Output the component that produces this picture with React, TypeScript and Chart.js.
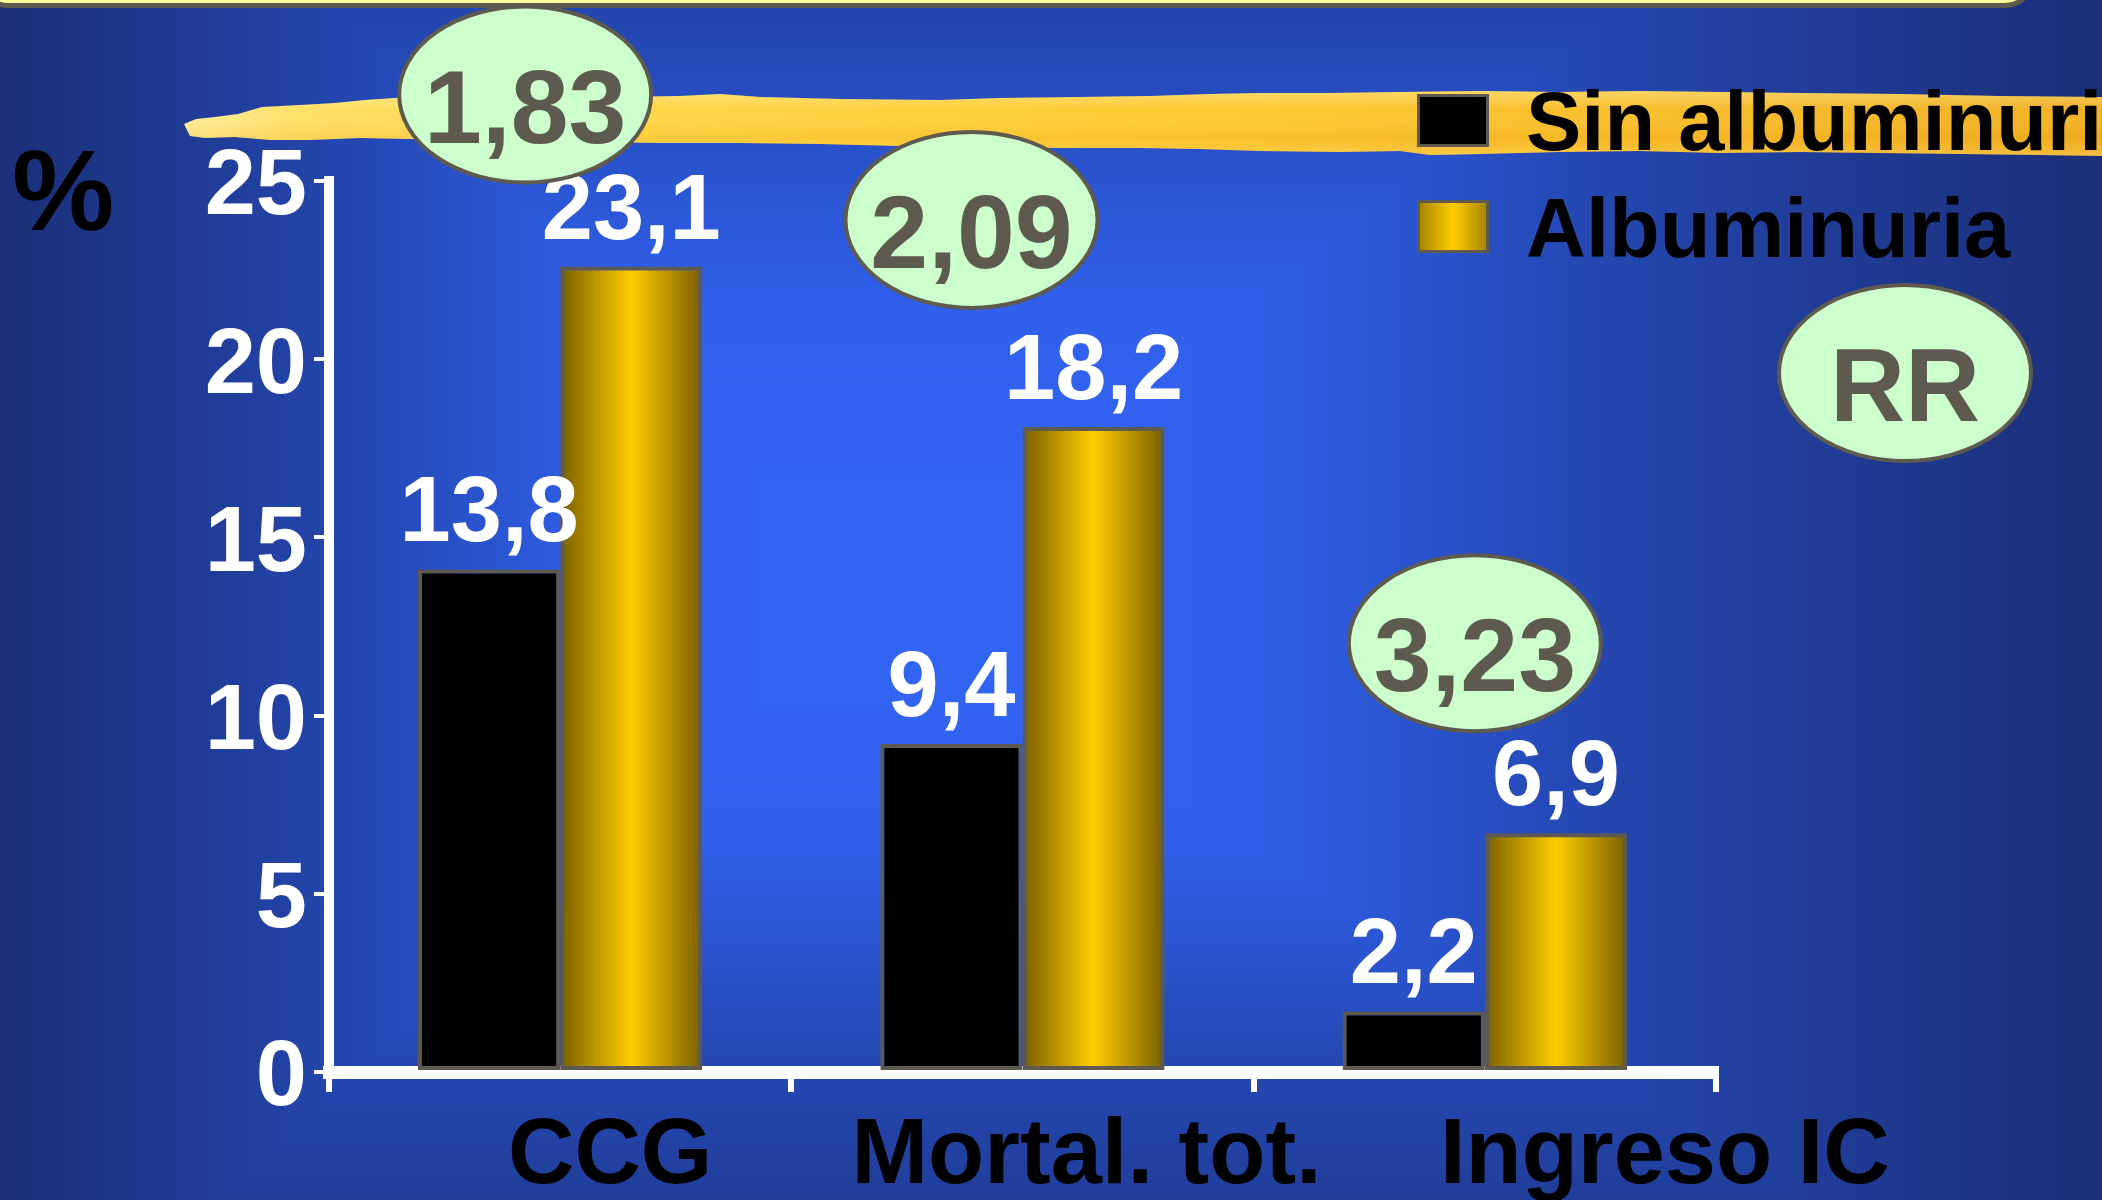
import React, { useEffect, useRef } from 'react';
import { Chart, registerables } from 'chart.js';

Chart.register(...registerables);

const FONT = '"Liberation Sans", Arial, Helvetica, sans-serif';

// ---- data ----
const categories = ['CCG', 'Mortal. tot.', 'Ingreso IC'];
const seriesNames = ['Sin albuminuria', 'Albuminuria'];
// bar heights as drawn in the picture (%)
const sinAlbuminuria = [14.1, 9.2, 1.7];
const albuminuria = [22.6, 18.1, 6.7];
// value labels printed above the bars
const sinAlbuminuriaLabels = ['13,8', '9,4', '2,2'];
const albuminuriaLabels = ['23,1', '18,2', '6,9'];
// relative risks printed in the bubbles
const riskRatios = ['1,83', '2,09', '3,23'];
const rrTitle = 'RR';
const yAxisTitle = '%';
const yTickValues = [0, 5, 10, 15, 20, 25];

// ---- styling helpers ----
const BORDER = '#5F5A50';
const BUBBLE = '#CCFFCC';

function goldGradient(ctx: CanvasRenderingContext2D, x0: number, x1: number, edge = '#7A6000') {
  const g = ctx.createLinearGradient(x0, 0, x1, 0);
  g.addColorStop(0, edge);
  g.addColorStop(0.5, '#FFCC00');
  g.addColorStop(1, edge);
  return g;
}

function drawBackground(ctx: CanvasRenderingContext2D, W: number, H: number) {
  const cx = 870, cy = 600, L = 870, R = 1232, T = 970, B = 800;
  const stops: [number, string][] = [
    [0, '#3366F5'],
    [0.3, '#3060EC'],
    [0.6, '#2446AE'],
    [1, '#1B2F78'],
  ];
  ctx.fillStyle = '#2547B0';
  ctx.fillRect(0, 0, W, H);
  const x0 = cx - L, x1 = cx + R, y0 = cy - T, y1 = cy + B;
  const tris: { a: number[]; b: number[]; g: number[] }[] = [
    { a: [x0, y0], b: [x0, y1], g: [cx, cy, x0, cy] },
    { a: [x1, y0], b: [x1, y1], g: [cx, cy, x1, cy] },
    { a: [x0, y0], b: [x1, y0], g: [cx, cy, cx, y0] },
    { a: [x0, y1], b: [x1, y1], g: [cx, cy, cx, y1] },
  ];
  for (const t of tris) {
    const g = ctx.createLinearGradient(t.g[0], t.g[1], t.g[2], t.g[3]);
    for (const [o, c] of stops) g.addColorStop(o, c);
    ctx.fillStyle = g;
    ctx.strokeStyle = g;
    ctx.lineWidth = 1.5;
    ctx.beginPath();
    ctx.moveTo(cx, cy);
    ctx.lineTo(t.a[0], t.a[1]);
    ctx.lineTo(t.b[0], t.b[1]);
    ctx.closePath();
    ctx.fill();
    ctx.stroke();
  }
}

function drawTitleBox(ctx: CanvasRenderingContext2D) {
  ctx.beginPath();
  ctx.roundRect(-20, -80, 2053, 85.5, 28);
  ctx.fillStyle = '#FFFF99';
  ctx.fill();
  ctx.lineWidth = 5;
  ctx.strokeStyle = BORDER;
  ctx.stroke();
}

function drawBrush(ctx: CanvasRenderingContext2D) {
  const top = [[184,124],[196,119],[215,117],[238,114],[262,107],[300,105],[335,103],[365,100],[395,98],[430,97],[500,98],[560,96],[620,97],[680,96],[720,94],[760,97],[840,99],[940,100],[1000,98],[1080,97],[1150,96],[1210,94],[1260,93],[1330,93],[1400,92],[1480,91],[1560,92],[1640,91],[1720,92],[1800,93],[1900,94],[2000,96],[2110,97]];
  const bottom = [[2110,156],[2040,155],[1960,154],[1880,153],[1800,152],[1720,153],[1640,151],[1560,152],[1480,154],[1430,155],[1400,151],[1340,152],[1260,151],[1200,149],[1140,148],[1060,148],[980,147],[900,146],[820,144],[740,143],[660,143],[600,142],[520,141],[460,140],[410,139],[360,138],[310,140],[270,140],[235,137],[205,138],[190,136]];
  ctx.save();
  ctx.beginPath();
  top.forEach(([x, y], i) => (i === 0 ? ctx.moveTo(x, y) : ctx.lineTo(x, y)));
  bottom.forEach(([x, y]) => ctx.lineTo(x, y));
  ctx.closePath();
  const g = ctx.createLinearGradient(184, 0, 2102, 0);
  g.addColorStop(0, '#FFEE99');
  g.addColorStop(0.06, '#FFE066');
  g.addColorStop(0.25, '#FFD545');
  g.addColorStop(0.5, '#FFCB33');
  g.addColorStop(0.75, '#F8BE2A');
  g.addColorStop(1, '#F0B024');
  ctx.fillStyle = g;
  ctx.fill();
  ctx.clip();
  const v = ctx.createLinearGradient(0, 90, 0, 156);
  v.addColorStop(0, 'rgba(255,255,210,0.35)');
  v.addColorStop(0.3, 'rgba(255,255,255,0)');
  v.addColorStop(0.7, 'rgba(230,140,0,0.15)');
  v.addColorStop(1, 'rgba(255,235,160,0.25)');
  ctx.fillStyle = v;
  ctx.fillRect(180, 85, 1930, 75);
  ctx.restore();
}

function drawBubble(ctx: CanvasRenderingContext2D, cx: number, cy: number, text: string) {
  ctx.beginPath();
  ctx.ellipse(cx, cy, 126, 88, 0, 0, Math.PI * 2);
  ctx.fillStyle = BUBBLE;
  ctx.fill();
  ctx.lineWidth = 4;
  ctx.strokeStyle = BORDER;
  ctx.stroke();
  ctx.fillStyle = BORDER;
  ctx.font = `bold 104px ${FONT}`;
  ctx.textAlign = 'center';
  ctx.textBaseline = 'alphabetic';
  ctx.fillText(text, cx, cy + 48);
}

const decorPlugin = {
  id: 'decor',
  beforeDraw(chart: any) {
    const ctx: CanvasRenderingContext2D = chart.ctx;
    ctx.save();
    drawBackground(ctx, chart.width, chart.height);
    drawTitleBox(ctx);
    drawBrush(ctx);
    ctx.fillStyle = '#000';
    ctx.font = `bold 115px ${FONT}`;
    ctx.textAlign = 'left';
    ctx.textBaseline = 'alphabetic';
    ctx.fillText(yAxisTitle, 12, 230);
    ctx.restore();
  },
  beforeDatasetDraw(chart: any, args: any) {
    if (args.index !== 1) return;
    const ctx: CanvasRenderingContext2D = chart.ctx;
    for (const el of args.meta.data) {
      const g = goldGradient(ctx, el.x - el.width / 2, el.x + el.width / 2);
      el.options = { ...el.options, backgroundColor: g };
    }
  },
  afterDatasetsDraw(chart: any) {
    const ctx: CanvasRenderingContext2D = chart.ctx;
    ctx.save();
    ctx.font = `bold 92px ${FONT}`;
    ctx.fillStyle = '#FFFFFF';
    ctx.textAlign = 'center';
    ctx.textBaseline = 'alphabetic';
    [sinAlbuminuriaLabels, albuminuriaLabels].forEach((labels, di) => {
      chart.getDatasetMeta(di).data.forEach((el: any, i: number) => {
        ctx.fillText(labels[i], el.x, el.y - 28);
      });
    });
    ctx.restore();
  },
  afterDraw(chart: any) {
    const ctx: CanvasRenderingContext2D = chart.ctx;
    const xs = chart.scales.x;
    const ys = chart.scales.y;
    ctx.save();
    // relative-risk bubbles above each group
    const rrDx = [-35, -51, -10];
    const rrDy = [172, 207, 190];
    riskRatios.forEach((rr, i) => {
      drawBubble(ctx, xs.getPixelForValue(i) + rrDx[i], ys.getPixelForValue(albuminuria[i]) - rrDy[i], rr);
    });
    drawBubble(ctx, 1905, 373, rrTitle);

    // legend
    const ds = chart.data.datasets;
    const legendY = [94, 200];
    const baseY = [150, 257];
    ds.forEach((d: any, i: number) => {
      const bx = 1417, by = legendY[i], bw = 72, bh = 53;
      ctx.fillStyle = i === 0 ? '#000000' : goldGradient(ctx, bx, bx + bw, '#A08000');
      ctx.fillRect(bx, by, bw, bh);
      ctx.lineWidth = 3;
      ctx.strokeStyle = BORDER;
      ctx.strokeRect(bx + 1.5, by + 1.5, bw - 3, bh - 3);
      ctx.fillStyle = '#000000';
      ctx.font = `bold 83px ${FONT}`;
      ctx.textAlign = 'left';
      ctx.textBaseline = 'alphabetic';
      ctx.fillText(d.label, 1526, baseY[i]);
    });

    // category labels
    const labelDx = [50, 64, 180];
    ctx.fillStyle = '#000000';
    ctx.font = `bold 92px ${FONT}`;
    ctx.textAlign = 'center';
    ctx.textBaseline = 'alphabetic';
    chart.data.labels.forEach((lab: string, i: number) => {
      ctx.fillText(lab, xs.getPixelForValue(i) + labelDx[i], 1183);
    });
    ctx.restore();
  },
};

export default function App() {
  const ref = useRef<HTMLCanvasElement>(null);

  useEffect(() => {
    const canvas = ref.current;
    if (!canvas) return;
    const chart = new Chart(canvas, {
      type: 'bar',
      data: {
        labels: categories,
        datasets: [
          {
            label: seriesNames[0],
            data: sinAlbuminuria,
            backgroundColor: '#000000',
            borderColor: BORDER,
            borderWidth: 4,
            borderSkipped: false,
          },
          {
            label: seriesNames[1],
            data: albuminuria,
            backgroundColor: () => '#FFCC00',
            borderColor: BORDER,
            borderWidth: 4,
            borderSkipped: false,
          },
        ],
      },
      options: {
        responsive: false,
        animation: false,
        events: [],
        devicePixelRatio: 1,
        layout: { padding: { top: 181, right: 386, bottom: 0, left: 0 } },
        plugins: { legend: { display: false }, tooltip: { enabled: false } },
        datasets: { bar: { categoryPercentage: 0.615, barPercentage: 1 } },
        scales: {
          x: {
            z: 1,
            grid: {
              display: true,
              drawOnChartArea: false,
              drawTicks: true,
              tickLength: 20,
              color: '#FFFFFF',
              lineWidth: 6,
              offset: true,
            },
            border: { display: true, color: '#FFFFFF', width: 13 },
            ticks: { display: false },
            afterFit: (s: any) => {
              s.height = 128;
            },
          },
          y: {
            z: 1,
            min: 0,
            max: 25,
            afterBuildTicks: (s: any) => {
              s.ticks = yTickValues.map((v) => ({ value: v }));
            },
            grid: {
              display: true,
              drawOnChartArea: false,
              drawTicks: true,
              tickLength: 15,
              color: '#FFFFFF',
              lineWidth: 4,
            },
            border: { display: true, color: '#FFFFFF', width: 10 },
            ticks: {
              color: '#FFFFFF',
              font: { family: FONT, size: 92, weight: 'bold' },
              padding: 7,
              labelOffset: 8,
            },
            afterFit: (s: any) => {
              s.width = 329;
            },
          },
        },
      } as any,
      plugins: [decorPlugin],
    });
    return () => chart.destroy();
  }, []);

  return (
    <div style={{ position: 'fixed', left: 0, top: 0, width: 2102, height: 1200, overflow: 'hidden' }}>
      <canvas ref={ref} width={2102} height={1200} style={{ display: 'block', width: 2102, height: 1200 }} />
    </div>
  );
}
